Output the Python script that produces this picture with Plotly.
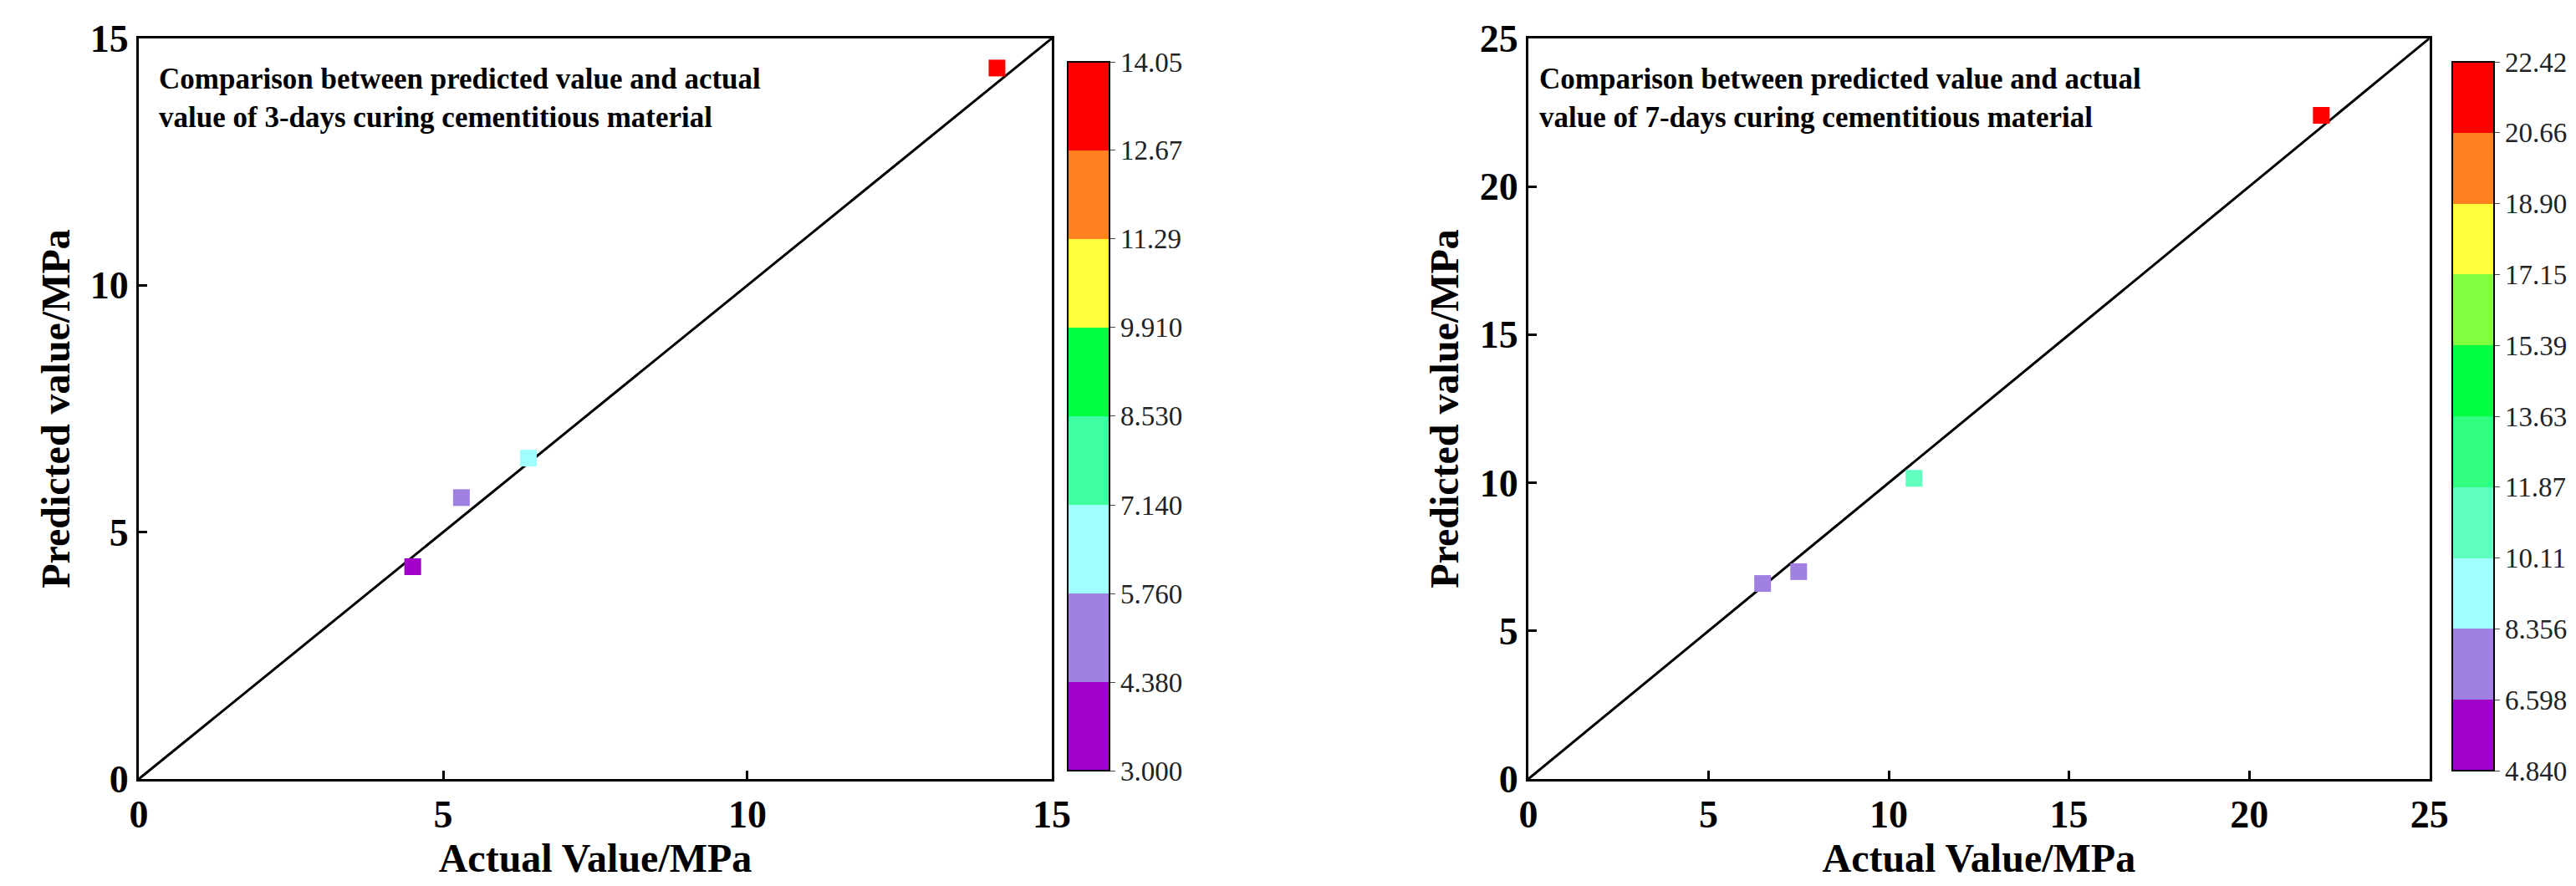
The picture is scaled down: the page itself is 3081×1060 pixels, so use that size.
import plotly.graph_objects as go

# data
actual_3d = [4.5, 5.3, 6.4, 14.1]
pred_3d = [4.3, 5.7, 6.5, 14.4]
actual_7d = [6.5, 7.5, 10.7, 22.0]
pred_7d = [6.6, 7.0, 10.15, 22.4]
cb_3d = [3.000, 4.380, 5.760, 7.140, 8.530, 9.910, 11.29, 12.67, 14.05]
cb_3d_txt = ["3.000", "4.380", "5.760", "7.140", "8.530", "9.910", "11.29", "12.67", "14.05"]
cb_7d = [4.840, 6.598, 8.356, 10.11, 11.87, 13.63, 15.39, 17.15, 18.90, 20.66, 22.42]
cb_7d_txt = ["4.840", "6.598", "8.356", "10.11", "11.87", "13.63", "15.39", "17.15", "18.90", "20.66", "22.42"]
colors_3d = ["#A000C8", "#A080E0", "#A0FFFF", "#40FFA0", "#00FF40", "#FFFF40", "#FF8020", "#FF0000"]
colors_7d = ["#A000C8", "#A080E0", "#A0FFFF", "#60FFC0", "#30FF80", "#00FF40", "#80FF40", "#FFFF40", "#FF8020", "#FF0000"]

def discrete(cols):
    n = len(cols)
    s = []
    for i, c in enumerate(cols):
        s.append([i / n, c]); s.append([(i + 1) / n, c])
    return s

FONT = "Liberation Serif"
fig = go.Figure()

def cbar(x, vals, txt):
    return dict(x=x, xanchor="left", y=0.1283, yanchor="bottom", len=0.819, thickness=50,
                tickvals=vals, ticktext=txt, ticks="outside", ticklen=6, outlinecolor="black", outlinewidth=2,
                tickfont=dict(family=FONT, size=33, color="#222"))

fig.add_trace(go.Scatter(x=[0, 15], y=[0, 15], mode="lines", line=dict(color="black", width=3),
                         xaxis="x", yaxis="y", showlegend=False, hoverinfo="skip"))
fig.add_trace(go.Scatter(x=actual_3d, y=pred_3d, mode="markers", xaxis="x", yaxis="y", showlegend=False,
                         marker=dict(symbol="square", size=20, color=pred_3d, cmin=cb_3d[0], cmax=cb_3d[-1],
                                     colorscale=discrete(colors_3d), colorbar=cbar(0.4085, cb_3d, cb_3d_txt))))
fig.add_trace(go.Scatter(x=[0, 25], y=[0, 25], mode="lines", line=dict(color="black", width=3),
                         xaxis="x2", yaxis="y2", showlegend=False, hoverinfo="skip"))
fig.add_trace(go.Scatter(x=actual_7d, y=pred_7d, mode="markers", xaxis="x2", yaxis="y2", showlegend=False,
                         marker=dict(symbol="square", size=20, color=pred_7d, cmin=cb_7d[0], cmax=cb_7d[-1],
                                     colorscale=discrete(colors_7d), colorbar=cbar(0.946, cb_7d, cb_7d_txt))))

ax_common = dict(showline=True, linecolor="black", linewidth=3, mirror=True, ticks="inside", ticklen=10,
                 tickwidth=3, tickcolor="black", showgrid=False, zeroline=False, automargin=False,
                 tickfont=dict(family=FONT, size=46, color="black", weight="bold"))
xt = dict(text="Actual Value/MPa", font=dict(family=FONT, size=48, color="black", weight="bold"), standoff=0)
yt = dict(text="Predicted value/MPa", font=dict(family=FONT, size=48, color="black", weight="bold"), standoff=10)

fig.update_layout(
    width=3081, height=1060, margin=dict(l=0, r=0, t=0, b=0),
    plot_bgcolor="white", paper_bgcolor="white",
    xaxis=dict(domain=[0.0513, 0.4057], range=[0, 15], dtick=5, title=xt, anchor="y", **ax_common),
    yaxis=dict(domain=[0.1283, 0.9642], range=[0, 15], dtick=5, title=yt, anchor="x", **ax_common),
    xaxis2=dict(domain=[0.5907, 0.9405], range=[0, 25], dtick=5, title=xt, anchor="y2", **ax_common),
    yaxis2=dict(domain=[0.1283, 0.9642], range=[0, 25], dtick=5, title=yt, anchor="x2", **ax_common),
    annotations=[
        dict(xref="x domain", yref="y domain", x=0.02, y=0.97, xanchor="left", yanchor="top", showarrow=False,
             align="left", text="Comparison between predicted value and actual<br>value of 3-days curing cementitious material",
             font=dict(family=FONT, size=35, color="black", weight="bold")),
        dict(xref="x2 domain", yref="y2 domain", x=0.01, y=0.97, xanchor="left", yanchor="top", showarrow=False,
             align="left", text="Comparison between predicted value and actual<br>value of 7-days curing cementitious material",
             font=dict(family=FONT, size=35, color="black", weight="bold")),
    ],
)
fig.write_html("out.html")
